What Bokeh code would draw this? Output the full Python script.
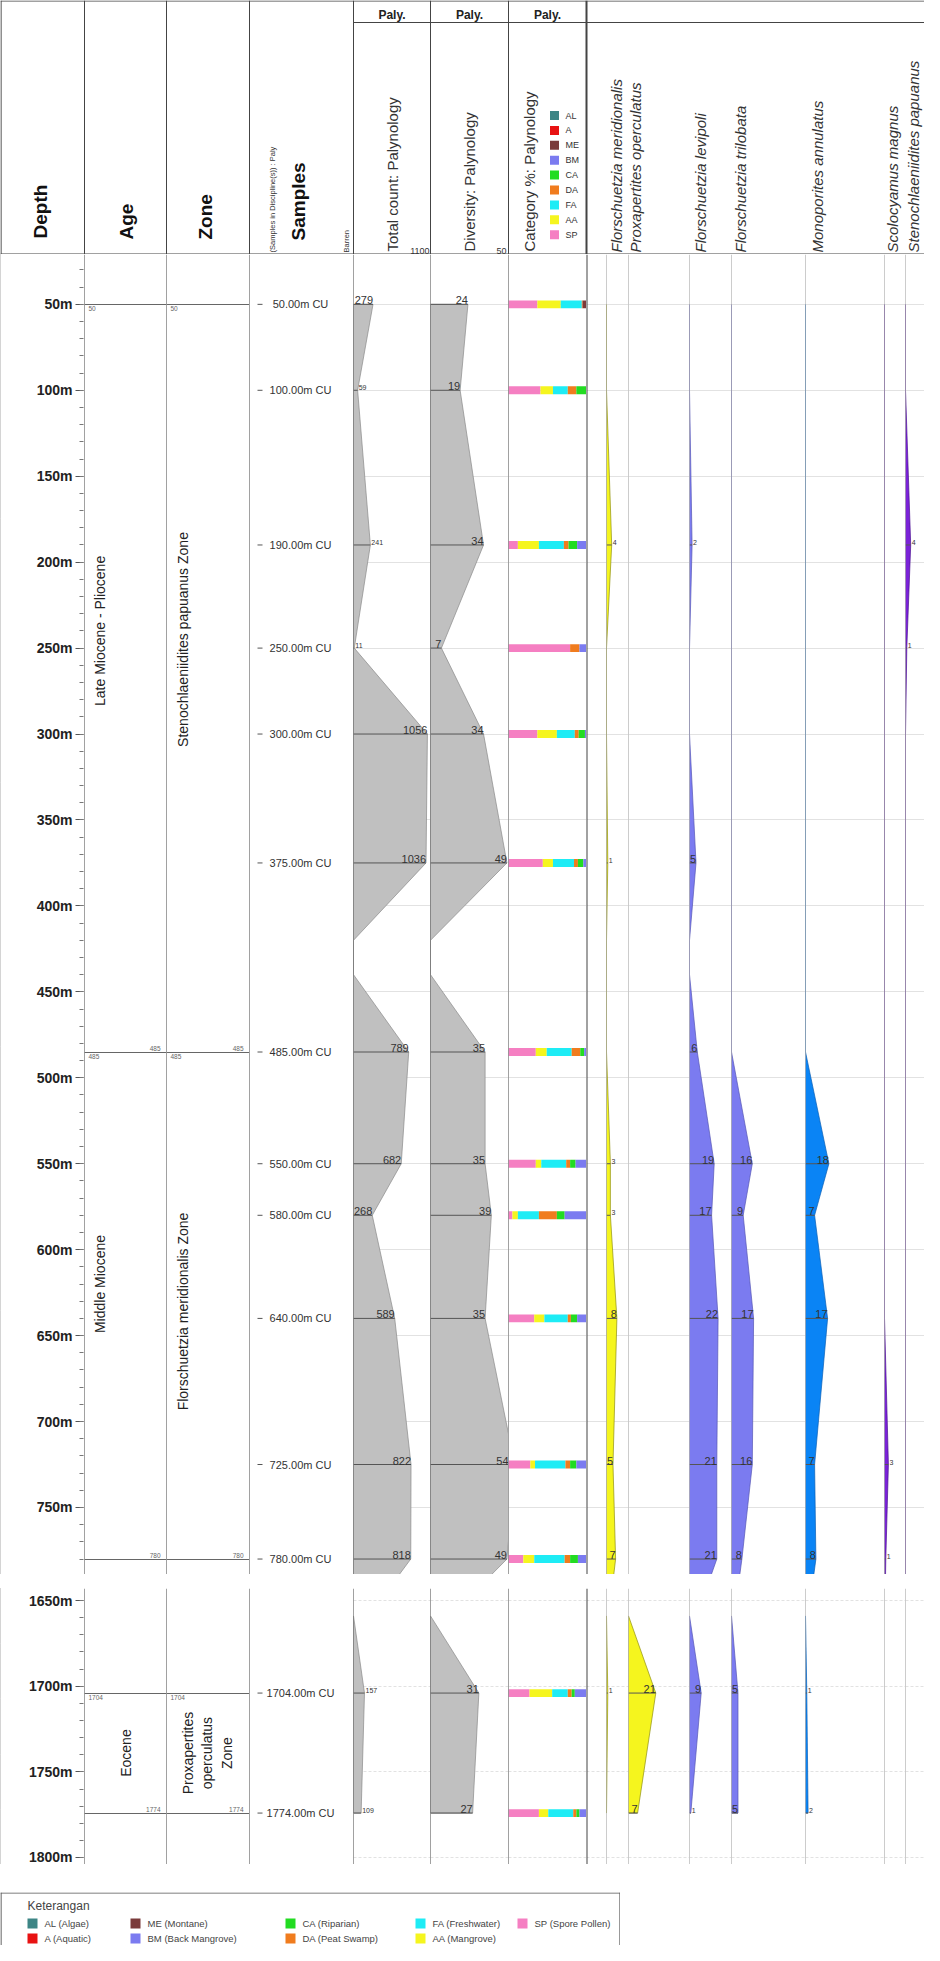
from math import pi
from bokeh.plotting import figure
from bokeh.models import Range1d, Span, Grid, SingleIntervalTicker, PrintfTickFormatter, ColumnDataSource, Spacer
from bokeh.layouts import row, column
from bokeh.embed import file_html
from bokeh.resources import INLINE
from bokeh.core.properties import value

FONT = "Liberation Sans"

# ------------------------------------------------------------------ data
SAMPLE_DEPTHS = [50, 100, 190, 250, 300, 375, 485, 550, 580, 640, 725, 780, 1704, 1774]
TOTAL_COUNT = [279, 59, 241, 11, 1056, 1036, 789, 682, 268, 589, 822, 818, 157, 109]
DIVERSITY = [24, 19, 34, 7, 34, 49, 35, 35, 39, 35, 54, 49, 31, 27]
# depths where every profile is cut back to zero between widely spaced samples
BREAK_DEPTHS = [420, 440, 825, 1659]

# Category %: Palynology (per sample)
CAT_CODES = ["SP", "AA", "FA", "DA", "CA", "BM", "ME", "A", "AL"]
CAT_SP = [37, 41, 12, 79, 37, 44, 35, 35, 5, 33, 28, 19, 27, 39]
CAT_AA = [30, 16, 27, 0, 25, 13, 14, 7, 7, 13, 6, 14, 29, 12]
CAT_FA = [27, 19, 32, 0, 23, 27, 32, 32, 27, 30, 39, 39, 20, 32]
CAT_DA = [1, 11, 6, 12, 5, 5, 11, 5, 23, 4, 6, 7, 5, 4]
CAT_CA = [0, 13, 11, 0, 8, 7, 5, 7, 10, 8, 8, 10, 4, 4]
CAT_BM = [0, 0, 12, 9, 2, 4, 3, 14, 28, 12, 13, 11, 15, 9]
CAT_ME = [5, 0, 0, 0, 0, 0, 0, 0, 0, 0, 0, 0, 0, 0]
CAT_A = [0, 0, 0, 0, 0, 0, 0, 0, 0, 0, 0, 0, 0, 0]
CAT_AL = [0, 0, 0, 0, 0, 0, 0, 0, 0, 0, 0, 0, 0, 0]
CAT_VALUES = {"SP": CAT_SP, "AA": CAT_AA, "FA": CAT_FA, "DA": CAT_DA, "CA": CAT_CA,
              "BM": CAT_BM, "ME": CAT_ME, "A": CAT_A, "AL": CAT_AL}
LEGEND_CODES = ["AL", "A", "ME", "BM", "CA", "DA", "FA", "AA", "SP"]
LEGEND_NAMES = ["AL (Algae)", "A (Aquatic)", "ME (Montane)", "BM (Back Mangrove)", "CA (Riparian)",
                "DA (Peat Swamp)", "FA (Freshwater)", "AA (Mangrove)", "SP (Spore Pollen)"]

# species counts (per sample)
SPECIES_NAMES = ["Florschuetzia meridionalis", "Proxapertites operculatus", "Florschuetzia levipoli",
                 "Florschuetzia trilobata", "Monoporites annulatus", "Scolocyamus magnus",
                 "Stenochlaeniidites papuanus"]
F_MERIDIONALIS = [0, 0, 4, 0, 0, 1, 0, 3, 3, 8, 5, 7, 1, 0]
P_OPERCULATUS = [0, 0, 0, 0, 0, 0, 0, 0, 0, 0, 0, 0, 21, 7]
F_LEVIPOLI = [0, 0, 2, 0, 0, 5, 6, 19, 17, 22, 21, 21, 9, 1]
F_TRILOBATA = [0, 0, 0, 0, 0, 0, 0, 16, 9, 17, 16, 8, 5, 5]
M_ANNULATUS = [0, 0, 0, 0, 0, 0, 0, 18, 7, 17, 7, 8, 1, 2]
S_MAGNUS = [0, 0, 0, 0, 0, 0, 0, 0, 0, 0, 3, 1, 0, 0]
S_PAPUANUS = [0, 0, 4, 1, 0, 0, 0, 0, 0, 0, 0, 0, 0, 0]
SPECIES_COUNTS = [F_MERIDIONALIS, P_OPERCULATUS, F_LEVIPOLI, F_TRILOBATA, M_ANNULATUS, S_MAGNUS, S_PAPUANUS]

# ages and zones
AGE_NAMES = ["Late Miocene - Pliocene", "Middle Miocene", "Eocene"]
AGE_TOPS = [50, 485, 1704]
AGE_BASES = [485, 780, 1774]
ZONE_NAMES = ["Stenochlaeniidites papuanus Zone", "Florschuetzia meridionalis Zone",
              "Proxapertites\noperculatus\nZone"]
ZONE_TOPS = [50, 485, 1704]
ZONE_BASES = [485, 780, 1774]

# ------------------------------------------------------------------ styles / layout
CAT_COLORS = {"SP": "#f57fc2", "AA": "#f5f51e", "FA": "#1eecf5", "DA": "#f07c1e", "CA": "#22dc22",
              "BM": "#7b7bf0", "ME": "#7a3a3a", "A": "#e81212", "AL": "#3d8585"}
SP_FILL = ["#f5f51e", "#f5f51e", "#7b7bf0", "#7b7bf0", "#0a84f5", "#7a22d8", "#7a22d8"]
SP_EDGE = ["#8f8f10", "#8f8f10", "#5656b5", "#5656b5", "#0a5fb5", "#4a1090", "#4a1090"]
SP_W = [22, 61, 42, 74, 79, 21, 19]
PX_PER_COUNT = 1.3
W_TOTAL = 924
SEP = "#444444"
TXT = "#333333"
GRID_C = "#e2e2e2"

UPPER = dict(h=1320, lo=21, hi=789, dash="solid")
LOWER = dict(h=276, lo=1643, hi=1804, dash="3 2")


def base_fig(w, h, xr, yr, **kw):
    p = figure(width=w, height=h, x_range=xr, y_range=yr, x_axis_location=None,
               y_axis_location=None, toolbar_location=None, output_backend="svg",
               min_border=0, outline_line_color=None, background_fill_color="white",
               border_fill_color="white", **kw)
    p.grid.visible = False
    return p


def solid_fig(w, h):
    return figure(width=w, height=h, x_range=Range1d(0, 1), y_range=Range1d(0, 1),
                  x_axis_location=None, y_axis_location=None, toolbar_location=None,
                  output_backend="svg", min_border=0, outline_line_color=None,
                  background_fill_color=SEP, border_fill_color=SEP)


def add_grid(p, dash):
    p.add_layout(Grid(dimension=1, ticker=SingleIntervalTicker(interval=50, num_minor_ticks=0),
                      grid_line_color=GRID_C, grid_line_dash=dash, grid_line_width=1, level="underlay"))


def left_line(p, x0, color=SEP, width=1):
    p.add_layout(Span(location=x0, dimension="height", line_color=color, line_width=width))


def txt(p, x, y, t, size, align="left", base="middle", angle=0, style="normal", color=TXT, **kw):
    p.text(x=x, y=y, text=t, angle=angle, text_align=align, text_baseline=base,
           text_font=value(FONT), text_font_size=value(size), text_font_style=style,
           text_color=color, **kw)


def in_panel(cfg):
    return [i for i, d in enumerate(SAMPLE_DEPTHS) if cfg["lo"] <= d <= cfg["hi"]]


def add_profile(p, vals, cfg, fill, edge, small_below, big_size, small_size, xmax):
    idx = in_panel(cfg)
    if max(vals[i] for i in idx) == 0:
        return
    pts = sorted([(SAMPLE_DEPTHS[i], vals[i]) for i in idx] +
                 [(b, 0) for b in BREAK_DEPTHS if cfg["lo"] <= b <= cfg["hi"] + 40])
    xs = [0] + [v for _, v in pts] + [0]
    ys = [pts[0][0]] + [d for d, _ in pts] + [pts[-1][0]]
    p.patch(xs, ys, fill_color=fill, line_color=edge, line_width=0.7)
    sd = [SAMPLE_DEPTHS[i] for i in idx if vals[i] > 0]
    sv = [vals[i] for i in idx if vals[i] > 0]
    p.segment(x0=[0] * len(sd), x1=sv, y0=sd, y1=sd, line_color="#555555", line_width=1)
    big = [(d, v) for d, v in zip(sd, sv) if v >= small_below]
    small = [(d, v) for d, v in zip(sd, sv) if v < small_below]
    if big:
        # values beyond the column's scale are clipped; keep their label inside the column
        txt(p, [min(v, xmax) for _, v in big], [d for d, _ in big], [str(v) for _, v in big],
            big_size, align="right", base="bottom")
    if small:
        txt(p, [v for _, v in small], [d for d, _ in small], [str(v) for _, v in small], small_size,
            align="left", base="bottom", x_offset=1)


def unit_fig(w, cfg, yr, names, tops, bases, text_x, text_depth):
    p = base_fig(w, cfg["h"], Range1d(0, w), yr)
    left_line(p, 0)
    lo, hi = cfg["lo"], cfg["hi"]
    bounds = sorted(set([d for d in tops + bases if lo <= d <= hi]))
    p.hspan(y=bounds, line_color="#666666", line_width=1)
    for name, t, b, tx, td in zip(names, tops, bases, text_x, text_depth):
        if not (lo <= t <= hi):
            continue
        txt(p, [tx], [td], [name], "14px", align="center", base="middle", angle=pi / 2,
            color="#222222")
        txt(p, [4], [t], [str(t)], "6.5px", align="left", base="top", y_offset=2, color="#666666")
        txt(p, [w - 6], [b], [str(b)], "6.5px", align="right", base="bottom", y_offset=-1,
            color="#666666")
    return p


def build_panel(cfg):
    h = cfg["h"]
    yr = Range1d(cfg["hi"], cfg["lo"])
    idx = in_panel(cfg)
    figs = [solid_fig(1, h)]

    # depth axis
    pd_ = figure(width=83, height=h, x_range=Range1d(0, 1), y_range=yr, x_axis_location=None,
                 y_axis_location="left", toolbar_location=None, output_backend="svg",
                 min_border=0, min_border_left=82, outline_line_color=None)
    pd_.grid.visible = False
    ax = pd_.yaxis[0]
    ax.ticker = SingleIntervalTicker(interval=50, num_minor_ticks=5)
    ax.formatter = PrintfTickFormatter(format="%dm")
    ax.major_label_text_font = FONT
    ax.major_label_text_font_size = "14px"
    ax.major_label_text_font_style = "bold"
    ax.major_label_text_color = "#222222"
    ax.major_label_standoff = 3
    ax.major_tick_out = 8
    ax.major_tick_in = 0
    ax.minor_tick_out = 4
    ax.minor_tick_in = 0
    ax.major_tick_line_color = "#555555"
    ax.minor_tick_line_color = "#777777"
    ax.axis_line_color = None
    figs.append(pd_)

    figs.append(unit_fig(82, cfg, yr, AGE_NAMES, AGE_TOPS, AGE_BASES,
                         [15, 15, 41], [240, 620, 1739]))
    figs.append(unit_fig(83, cfg, yr, ZONE_NAMES, ZONE_TOPS, ZONE_BASES,
                         [16, 16, 41], [245, 636, 1739]))

    # samples
    ps = base_fig(104, h, Range1d(0, 104), yr)
    left_line(ps, 0)
    sd = [SAMPLE_DEPTHS[i] for i in idx]
    ps.segment(x0=[8] * len(sd), x1=[13] * len(sd), y0=sd, y1=sd, line_color="#555555")
    txt(ps, [51] * len(sd), sd, ["%.2fm CU" % d for d in sd], "11px", align="center")
    figs.append(ps)

    # total count
    pt = base_fig(77, h, Range1d(0, 1100), yr)
    add_grid(pt, cfg["dash"])
    left_line(pt, 0)
    add_profile(pt, TOTAL_COUNT, cfg, "#c0c0c0", "#8a8a8a", 250, "11px", "7px", 1100)
    figs.append(pt)

    # diversity
    pv = base_fig(78, h, Range1d(0, 50), yr)
    add_grid(pv, cfg["dash"])
    left_line(pv, 0)
    add_profile(pv, DIVERSITY, cfg, "#c0c0c0", "#8a8a8a", 5, "11px", "7px", 50)
    figs.append(pv)

    # category %
    pc = base_fig(78, h, Range1d(0, 100), yr)
    add_grid(pc, cfg["dash"])
    src = ColumnDataSource(dict(depth=[SAMPLE_DEPTHS[i] for i in idx],
                                **{c: [CAT_VALUES[c][i] for i in idx] for c in CAT_CODES}))
    pc.hbar_stack(CAT_CODES, y="depth", height=4.6, color=[CAT_COLORS[c] for c in CAT_CODES],
                  source=src, line_color=None)
    left_line(pc, 0)
    figs.append(pc)

    # gap before species
    pg = base_fig(20, h, Range1d(0, 20), yr)
    add_grid(pg, cfg["dash"])
    left_line(pg, 0, width=2)
    figs.append(pg)

    for k, (vals, w) in enumerate(zip(SPECIES_COUNTS, SP_W)):
        pp = base_fig(w, h, Range1d(0, w / PX_PER_COUNT), yr)
        add_grid(pp, cfg["dash"])
        add_profile(pp, vals, cfg, SP_FILL[k], SP_EDGE[k], 5, "11px", "7px", w / PX_PER_COUNT)
        left_line(pp, 0, color="#9a9a9a")
        figs.append(pp)
    return row(*figs)


# ------------------------------------------------------------------ header
HH = 254
hdr = base_fig(W_TOTAL, HH, Range1d(0, W_TOTAL), Range1d(HH, 0))
seps = [84, 166, 249, 353, 430, 508]
hdr.segment(x0=seps, x1=seps, y0=[0] * len(seps), y1=[HH] * len(seps), line_color=SEP, line_width=1)
hdr.segment(x0=[586], x1=[586], y0=[0], y1=[HH], line_color=SEP, line_width=2)
hdr.segment(x0=[0.5, 0, 353, 0], x1=[0.5, W_TOTAL, W_TOTAL, W_TOTAL], y0=[0, 0.5, 22, HH - 0.5],
            y1=[HH, 0.5, 22, HH - 0.5], line_color=SEP, line_width=1.2)
for xc in [391.5, 469, 547]:
    txt(hdr, [xc], [14], ["Paly."], "12px", align="center", style="bold", color="#222222")
txt(hdr, [40, 126, 205, 298], [238, 239, 239, 240], ["Depth", "Age", "Zone", "Samples"], "19px",
    angle=pi / 2, style="bold", color="#111111")
txt(hdr, [272], [252], ["(Samples in Discipline(s)) : Paly"], "7.5px", angle=pi / 2)
txt(hdr, [346], [252], ["Barren"], "7.5px", angle=pi / 2)
txt(hdr, [392, 469, 529], [251, 251, 251],
    ["Total count: Palynology", "Diversity: Palynology", "Category %: Palynology"], "15px",
    angle=pi / 2)
txt(hdr, [429, 506], [253, 253], ["1100", "50"], "9px", align="right", base="bottom")
ly = [115 + 14.9 * i for i in range(len(LEGEND_CODES))]
hdr.rect(x=[554] * len(ly), y=ly, width=9, height=9, width_units="screen", height_units="screen",
         fill_color=[CAT_COLORS[c] for c in LEGEND_CODES], line_color=None)
txt(hdr, [565] * len(ly), ly, LEGEND_CODES, "9px")
sp_x = [616, 635, 700, 740, 817, 892, 913]
txt(hdr, sp_x, [252] * len(sp_x), SPECIES_NAMES, "15px", angle=pi / 2, style="italic")

# ------------------------------------------------------------------ legend
LW, LH = 620, 53
leg = base_fig(LW, LH, Range1d(0, LW), Range1d(LH, 0))
leg.segment(x0=[0.5, 0, LW - 0.5], x1=[0.5, LW, LW - 0.5], y0=[0, 0.5, 0], y1=[LH, 0.5, LH],
            line_color="#555555", line_width=1.2)
txt(leg, [27], [13], ["Keterangan"], "12px", color="#444444")
lx = [32, 32, 135, 135, 290, 290, 420, 420, 522]
lyy = [31, 46, 31, 46, 31, 46, 31, 46, 31]
leg.rect(x=lx, y=lyy, width=10, height=10, width_units="screen", height_units="screen",
         fill_color=[CAT_COLORS[c] for c in LEGEND_CODES], line_color=None)
txt(leg, [x + 12 for x in lx], lyy, LEGEND_NAMES, "9.5px", color="#444444")

layout = column(
    hdr,
    build_panel(UPPER),
    solid_fig(W_TOTAL, 1),
    Spacer(width=W_TOTAL, height=12),
    solid_fig(W_TOTAL, 1),
    build_panel(LOWER),
    solid_fig(W_TOTAL, 1),
    Spacer(width=W_TOTAL, height=27),
    leg,
)

open("out.html", "w").write(file_html(layout, INLINE))
